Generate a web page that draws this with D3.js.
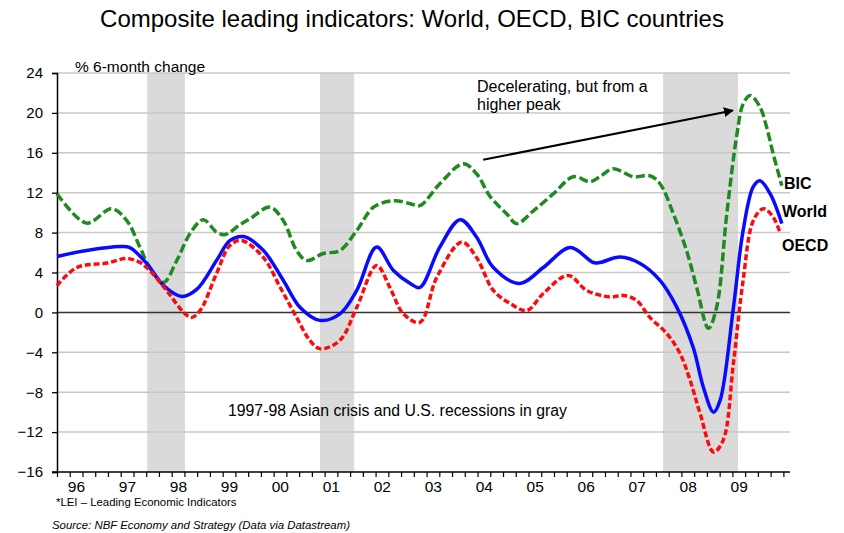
<!DOCTYPE html>
<html>
<head>
<meta charset="utf-8">
<script src="https://cdn.jsdelivr.net/npm/d3@7"></script>
<style>
  html, body { margin: 0; padding: 0; background: #fff; }
  svg { display: block; font-family: "Liberation Sans", Arial, sans-serif; }
</style>
</head>
<body>
<svg id="chart" width="844" height="533"></svg>
<script>
// ---------------- DATA ----------------
const yearLabels = ["96","97","98","99","00","01","02","03","04","05","06","07","08","09"];
const yTicks = [-16, -12, -8, -4, 0, 4, 8, 12, 16, 20, 24];

// recession periods (decimal years)
const recessions = [[1997.77, 1998.51], [2001.16, 2001.83], [2007.89, 2009.36]];

// BIC countries, % 6-month change
const bicPoints = [
  [1996.00, 11.9], [1996.58, 8.95], [1997.07, 10.4], [1997.37, 9.2], [1997.63, 6.5],
  [1997.82, 4.5], [1998.09, 3.0], [1998.35, 5.2], [1998.61, 7.9], [1998.87, 9.3],
  [1999.13, 8.05], [1999.30, 7.8], [1999.59, 8.8], [1999.79, 9.4], [2000.18, 10.55],
  [2000.44, 9.2], [2000.70, 6.2], [2000.90, 5.2], [2001.22, 5.9], [2001.55, 6.2],
  [2001.88, 8.2], [2002.21, 10.55], [2002.60, 11.2], [2002.93, 10.9], [2003.12, 10.7],
  [2003.51, 12.9], [2003.97, 14.9], [2004.23, 13.9], [2004.50, 11.6], [2004.82, 9.9],
  [2005.02, 8.9], [2005.35, 10.2], [2005.74, 11.9], [2006.13, 13.6], [2006.46, 13.1],
  [2006.65, 13.6], [2006.91, 14.4], [2007.31, 13.6], [2007.63, 13.7], [2007.83, 12.9],
  [2008.09, 9.9], [2008.35, 6.2], [2008.55, 2.5], [2008.78, -1.6], [2008.94, 0.5],
  [2009.14, 9.9], [2009.34, 17.9], [2009.46, 20.9], [2009.60, 21.75], [2009.79, 20.6],
  [2009.92, 18.6], [2010.05, 15.9], [2010.22, 12.7]
];

// World
const worldPoints = [
  [1996.00, 5.6], [1996.52, 6.15], [1997.24, 6.6], [1997.43, 6.5], [1997.76, 4.9],
  [1998.09, 2.7], [1998.45, 1.6], [1998.74, 2.3], [1999.13, 5.2], [1999.39, 7.2],
  [1999.66, 7.6], [2000.05, 6.2], [2000.44, 3.2], [2000.77, 0.5], [2001.16, -0.8],
  [2001.55, -0.15], [2001.88, 2.2], [2002.27, 6.55], [2002.60, 4.2], [2002.93, 2.9],
  [2003.12, 2.5], [2003.51, 6.55], [2003.91, 9.3], [2004.23, 7.55], [2004.56, 4.5],
  [2005.08, 2.9], [2005.54, 4.5], [2006.07, 6.5], [2006.52, 5.0], [2006.65, 5.0],
  [2007.05, 5.55], [2007.44, 4.9], [2007.83, 3.2], [2008.16, 0.5], [2008.48, -3.5],
  [2008.68, -7.5], [2008.88, -10.0], [2009.01, -8.8], [2009.27, 0.5], [2009.46, 8.2],
  [2009.66, 12.6], [2009.79, 13.2], [2009.99, 11.9], [2010.22, 8.9]
];

// OECD
const oecdPoints = [
  [1996.00, 2.7], [1996.39, 4.5], [1996.98, 4.95], [1997.37, 5.4], [1997.63, 5.0],
  [1997.82, 4.2], [1998.15, 2.2], [1998.48, 0.03], [1998.64, -0.5], [1998.81, 0.2],
  [1999.13, 3.9], [1999.39, 6.7], [1999.62, 7.2], [2000.05, 5.5], [2000.38, 2.5],
  [2000.70, -0.5], [2000.96, -2.8], [2001.16, -3.65], [2001.55, -2.8], [2001.88, 0.5],
  [2002.27, 4.7], [2002.53, 2.5], [2002.79, -0.1], [2003.12, -1.0], [2003.45, 3.5],
  [2003.94, 7.05], [2004.23, 5.5], [2004.56, 2.2], [2004.89, 0.9], [2005.22, 0.2],
  [2005.54, 1.9], [2006.03, 3.7], [2006.39, 2.2], [2006.85, 1.55], [2007.11, 1.7],
  [2007.37, 1.2], [2007.63, -0.5], [2007.96, -2.1], [2008.22, -4.1], [2008.42, -6.8],
  [2008.62, -10.2], [2008.88, -14.0], [2009.07, -12.8], [2009.27, -5.1], [2009.46, 3.2],
  [2009.66, 9.2], [2009.86, 10.4], [2010.05, 9.55], [2010.19, 7.9]
];

const seriesNames = ["BIC", "World", "OECD"];
const seriesColors = ["#1f8a1f", "#0a0aff", "#ff0a0a"];

// annotation arrow (decimal year, value)
const arrowFrom = [2004.36, 15.3];
const arrowTo = [2009.26, 20.25];

// ---------------- CHART ----------------
const svg = d3.select("#chart");
const x = d3.scaleLinear().domain([1996, 2010.38]).range([57, 790]);
const y = d3.scaleLinear().domain([-16, 24]).range([472, 73]);

// title
svg.append("text").attr("x", 412).attr("y", 27).attr("text-anchor", "middle")
  .attr("font-size", 24).attr("fill", "#000")
  .text("Composite leading indicators: World, OECD, BIC countries");

// recession bands
svg.append("g").selectAll("rect").data(recessions).join("rect")
  .attr("x", d => x(d[0])).attr("width", d => x(d[1]) - x(d[0]))
  .attr("y", y(24)).attr("height", y(-16) - y(24))
  .attr("fill", "#dadada");

// gridlines
svg.append("g").selectAll("line").data(yTicks.filter(t => t !== 0 && t !== -16)).join("line")
  .attr("x1", x.range()[0]).attr("x2", x.range()[1])
  .attr("y1", d => y(d)).attr("y2", d => y(d))
  .attr("stroke", "#c8c8c8").attr("stroke-width", 1.5);

// zero line
svg.append("line").attr("x1", x.range()[0]).attr("x2", x.range()[1])
  .attr("y1", y(0)).attr("y2", y(0)).attr("stroke", "#333").attr("stroke-width", 1.5);

// y axis
const yAxis = d3.axisLeft(y).tickValues(yTicks).tickSize(5).tickPadding(9).tickFormat(d3.format("d"));
const gy = svg.append("g").attr("transform", `translate(${x.range()[0]},0)`).call(yAxis);
gy.select(".domain").attr("stroke", "#000").attr("stroke-width", 1.5);
gy.selectAll(".tick line").attr("stroke", "#000").attr("stroke-width", 1.3);
gy.selectAll(".tick text").attr("font-size", 15).attr("fill", "#000")
  .attr("font-family", "Liberation Sans, Arial, sans-serif");

// x axis: quarterly ticks
const quarterTicks = d3.range(1996, 2010.38, 0.25);
const xAxis = d3.axisBottom(x).tickValues(quarterTicks).tickSize(5).tickFormat("");
const gx = svg.append("g").attr("transform", `translate(0,${y(-16)})`).call(xAxis);
gx.select(".domain").attr("stroke", "#000").attr("stroke-width", 1.5).attr("d", `M${x.range()[0]-5},0H${x.range()[1]}`);
gx.selectAll(".tick line").attr("stroke", "#000").attr("stroke-width", 1.2);

// year labels
svg.append("g").selectAll("text").data(yearLabels).join("text")
  .attr("x", (d, i) => x(1996 + i + 0.5) - 6)
  .attr("y", 492).attr("text-anchor", "middle").attr("font-size", 15.5).attr("fill", "#000")
  .text(d => d);

// lines
const line = d3.line().x(d => x(d[0])).y(d => y(d[1])).curve(d3.curveCatmullRom.alpha(0.5));
const allSeries = [bicPoints, worldPoints, oecdPoints];
const dashes = ["9,3.5", null, "6,2.8"];
allSeries.forEach((pts, i) => {
  svg.append("path").datum(pts).attr("d", line)
    .attr("fill", "none").attr("stroke", seriesColors[i]).attr("stroke-width", 3.5)
    .attr("stroke-dasharray", dashes[i]).attr("stroke-linejoin", "round");
});

// series labels
const labelPos = [[784, 189], [782, 217], [782, 251]];
seriesNames.forEach((n, i) => {
  svg.append("text").attr("x", labelPos[i][0]).attr("y", labelPos[i][1])
    .attr("font-size", 16).attr("font-weight", "bold").attr("fill", "#000").text(n);
});

// axis unit label
svg.append("text").attr("x", 75).attr("y", 72).attr("font-size", 15.5).attr("fill", "#000")
  .text("% 6-month change");

// annotation
svg.append("defs").append("marker").attr("id", "arrow").attr("viewBox", "0 0 10 10")
  .attr("refX", 9).attr("refY", 5).attr("markerWidth", 5).attr("markerHeight", 5)
  .attr("orient", "auto").append("path").attr("d", "M0,0L10,5L0,10z").attr("fill", "#000");
svg.append("line").attr("x1", x(arrowFrom[0])).attr("y1", y(arrowFrom[1]))
  .attr("x2", x(arrowTo[0])).attr("y2", y(arrowTo[1]))
  .attr("stroke", "#000").attr("stroke-width", 2).attr("marker-end", "url(#arrow)");
svg.append("text").attr("x", 477).attr("y", 92).attr("font-size", 16).attr("fill", "#000")
  .text("Decelerating, but from a");
svg.append("text").attr("x", 477).attr("y", 110).attr("font-size", 16).attr("fill", "#000")
  .text("higher peak");

svg.append("text").attr("x", 228).attr("y", 416).attr("font-size", 15.8).attr("fill", "#000")
  .text("1997-98 Asian crisis and U.S. recessions in gray");

// footnotes
svg.append("text").attr("x", 56).attr("y", 506).attr("font-size", 11.4).attr("fill", "#000")
  .text("*LEI \u2013 Leading Economic Indicators");
svg.append("text").attr("x", 52).attr("y", 529).attr("font-size", 11.4).attr("font-style", "italic")
  .attr("fill", "#000").text("Source: NBF Economy and Strategy (Data via Datastream)");
</script>
</body>
</html>
